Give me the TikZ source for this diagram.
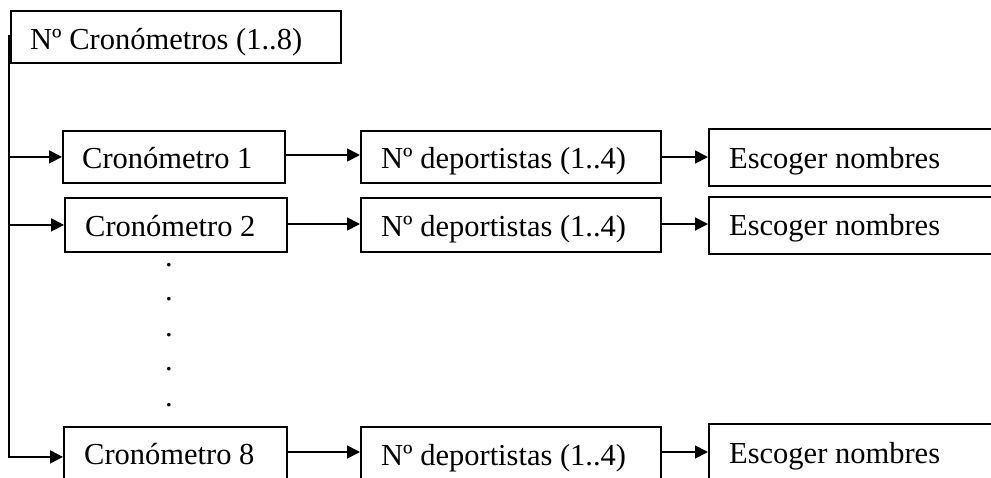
\documentclass[tikz,border=0pt]{standalone}
\usepackage{fontspec}
\setmainfont{Liberation Serif}
\usetikzlibrary{arrows.meta}
\begin{document}
\begin{tikzpicture}[x=1pt,y=-1pt,
  box/.style={draw,line width=1.8pt,rectangle,inner sep=0pt,anchor=north west},
  lbl/.style={anchor=base west,inner sep=0pt,font=\fontsize{30.5}{36}\selectfont},
  dotlbl/.style={anchor=base,inner sep=0pt,font=\fontsize{30.5}{36}\selectfont},
  arr/.style={line width=1.8pt,-{Triangle[length=13pt,width=13pt]}}]
\useasboundingbox (0,0) rectangle (991,477);
\clip (0,0) rectangle (991,477);
% boxes
\node[box,minimum width=330pt,minimum height=52pt] (top) at (10,10) {};
\node[box,minimum width=222pt,minimum height=52pt] (c1) at (62,130) {};
\node[box,minimum width=222pt,minimum height=54pt] (c2) at (64,197) {};
\node[box,minimum width=223pt,minimum height=60pt] (c8) at (63,426) {};
\node[box,minimum width=300pt,minimum height=52pt] (n1) at (360,130) {};
\node[box,minimum width=300pt,minimum height=54pt] (n2) at (360,197) {};
\node[box,minimum width=300pt,minimum height=60pt] (n8) at (360,426) {};
\node[box,minimum width=300pt,minimum height=57pt] (e1) at (708,128) {};
\node[box,minimum width=300pt,minimum height=57pt] (e2) at (708,196) {};
\node[box,minimum width=300pt,minimum height=62pt] (e8) at (708,423) {};
% labels
\node[lbl] (ttop) at (30,49) {Nº Cronómetros (1..8)};
\node[lbl] (tc1) at (82,168) {Cronómetro 1};
\node[lbl] (tc2) at (85,236) {Cronómetro 2};
\node[lbl] (tc8) at (84,464) {Cronómetro 8};
\node[lbl] (tn1) at (381,168) {Nº deportistas (1..4)};
\node[lbl] (tn2) at (381,236) {Nº deportistas (1..4)};
\node[lbl] (tn8) at (381,465) {Nº deportistas (1..4)};
\node[lbl] (te1) at (729,168) {Escoger nombres};
\node[lbl] (te2) at (729,235) {Escoger nombres};
\node[lbl] (te8) at (729,463) {Escoger nombres};
% dots
\foreach \yy [count=\i] in {266,300,336,370,406} {
  \node[dotlbl] (dot\i) at (169,\yy) {.};
}
% trunk
\coordinate (t0) at (9,35);
\draw[arr] (t0) |- (c8.west);
\draw[arr] (t0 |- c1.west) -- (c1.west);
\draw[arr] (t0 |- c2.west) -- (c2.west);
% row arrows
\draw[arr] (c1.east |- 0,155) -- (n1.west |- 0,155);
\draw[arr] (c2.east |- 0,224) -- (n2.west |- 0,224);
\draw[arr] (c8.east |- 0,452) -- (n8.west |- 0,452);
\draw[arr] (n1.east |- 0,157) -- (e1.west |- 0,157);
\draw[arr] (n2.east |- 0,224) -- (e2.west |- 0,224);
\draw[arr] (n8.east |- 0,452) -- (e8.west |- 0,452);
\end{tikzpicture}
\end{document}
